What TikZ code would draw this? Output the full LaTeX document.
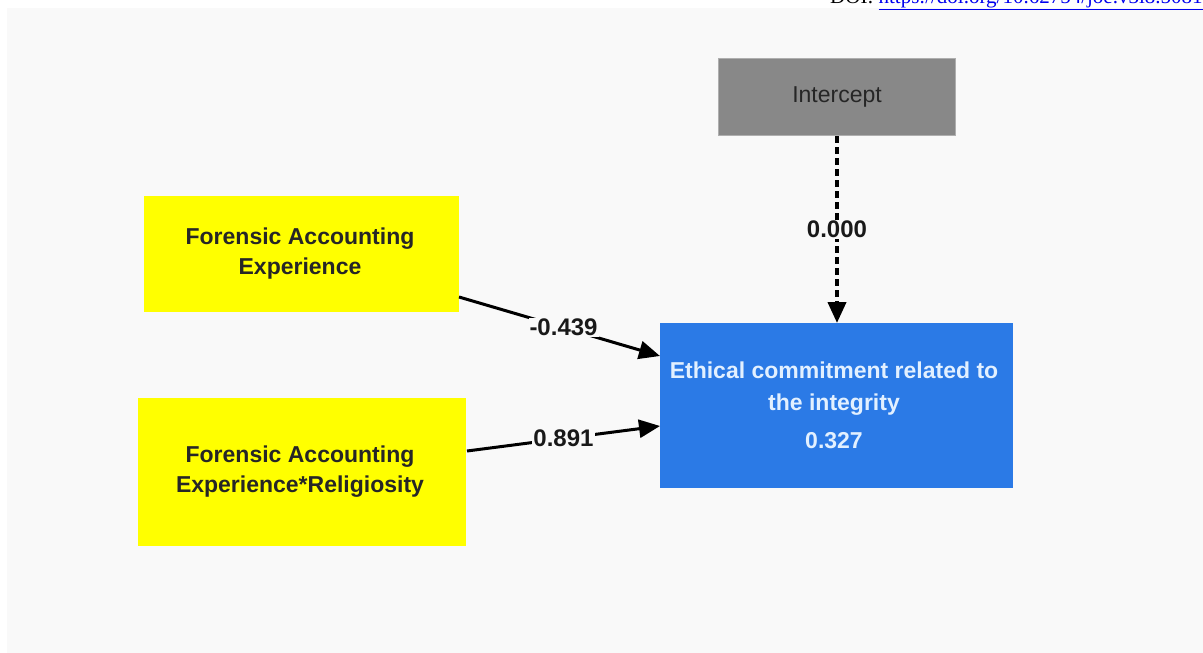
\documentclass[tikz,border=0pt]{standalone}
\usepackage{fontspec}
\setmainfont{Liberation Sans}
\newfontfamily\serifdoi{Liberation Serif}
\usetikzlibrary{arrows.meta}
\definecolor{panel}{RGB}{249,249,249}
\definecolor{varyellow}{RGB}{255,255,0}
\definecolor{interceptgray}{RGB}{136,136,136}
\definecolor{interceptedge}{RGB}{175,175,175}
\definecolor{outcomeblue}{RGB}{43,122,230}
\definecolor{outcometext}{RGB}{226,240,255}
\definecolor{linkblue}{RGB}{0,0,238}
\tikzset{
  predictor/.style={fill=varyellow, draw=none, align=center,
    font=\fontsize{23}{30}\selectfont\bfseries, text=black!85},
  outcome/.style={fill=outcomeblue, draw=none, align=center,
    font=\fontsize{23}{32}\selectfont\bfseries, text=outcometext},
  interceptbox/.style={fill=interceptgray, draw=interceptedge, line width=1pt},
  pathline/.style={line width=3pt, black,
    -{Triangle[length=21pt,width=18pt]}},
  coef/.style={fill=panel, inner sep=1pt,
    font=\fontsize{24}{26}\selectfont\bfseries, text=black!90},
}
\begin{document}
\begin{tikzpicture}[x=1pt,y=-1pt]
\useasboundingbox (0,0) rectangle (1203,653);
\fill[white] (0,0) rectangle (1203,653);
\fill[panel] (7,8) rectangle (1203,653);

% running header, partly above the page edge
\node[anchor=base west, inner sep=0pt, font=\serifdoi\fontsize{21}{24}\selectfont]
  (doi) at (830,3) {DOI: \textcolor{linkblue}{\underline{https://doi.org/10.62754/joe.v3i8.5081}}};

% boxes
\path[interceptbox] (718,58) rectangle (955,135);
\node[font=\fontsize{23}{26}\selectfont, text=black!85] (intercept) at (837,97) {Intercept};
\coordinate (intbottom) at (837,136);

\path[fill=varyellow] (144,196) rectangle (459,312);
\node[predictor] (fae) at (300,254) {Forensic Accounting\\Experience};

\path[fill=varyellow] (138,398) rectangle (466,546);
\node[predictor] (faer) at (300,472) {Forensic Accounting\\Experience*Religiosity};

\path[fill=outcomeblue] (660,323) rectangle (1013,488);
\node[outcome] (ethic) at (834,389) {Ethical commitment related to\\the integrity};
\node[outcome] (r2) at (834,441) {0.327};

% anchor points on the box edges
\coordinate (faeout) at (459,297);
\coordinate (faerout) at (467,451);
\coordinate (ethin1) at (660,356);
\coordinate (ethin2) at (660,426);
\coordinate (ethtop) at (837,323);

% paths
\draw[pathline] (faeout) -- node[coef, pos=0.52] {-0.439} (ethin1);
\draw[pathline] (faerout) -- node[coef, pos=0.5] {0.891} (ethin2);
\draw[pathline, line width=4pt, dash pattern=on 7pt off 4pt] (intbottom) -- node[coef, pos=0.5] {0.000} (ethtop);
\end{tikzpicture}
\end{document}
